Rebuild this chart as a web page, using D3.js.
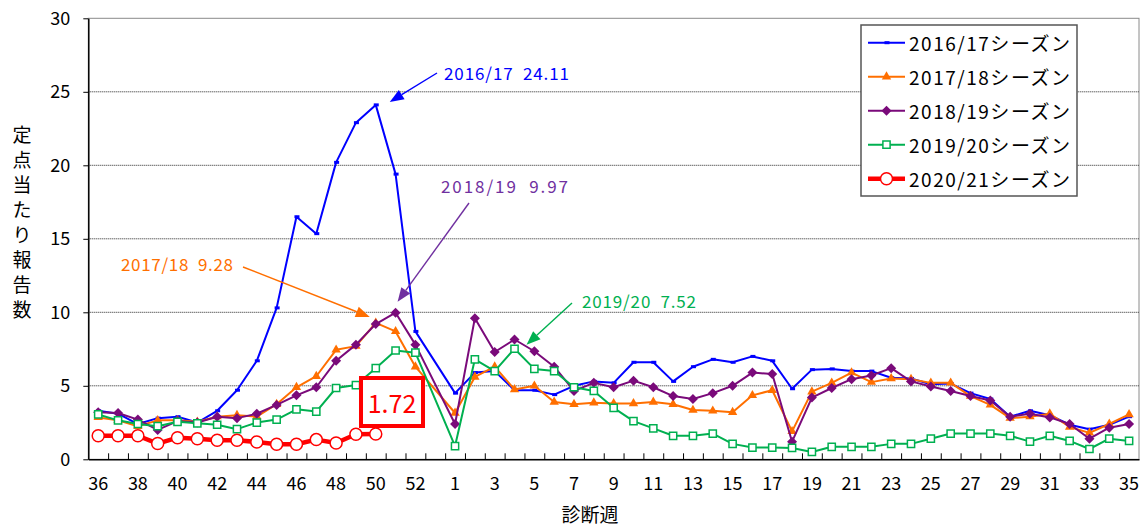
<!DOCTYPE html>
<html><head><meta charset="utf-8">
<script src="https://cdn.jsdelivr.net/npm/d3@7"></script>
<style>
body{margin:0;background:#fff;}
svg{display:block;font-family:"Noto Sans CJK JP","Noto Sans",sans-serif;}
</style></head><body>
<svg id="c" width="1142" height="528"></svg>
<script>
// ---- data ----
const weeks = ["36","37","38","39","40","41","42","43","44","45","46","47","48","49","50","51","52","53",
  "1","2","3","4","5","6","7","8","9","10","11","12","13","14","15","16","17","18","19","20",
  "21","22","23","24","25","26","27","28","29","30","31","32","33","34","35"];
const tickLabels = ["36","38","40","42","44","46","48","50","52","1","3","5","7","9","11","13","15","17","19","21","23","25","27","29","31","33","35"];
const yTicks = [0,5,10,15,20,25,30];
const seasonNames = ["2016/17シーズン","2017/18シーズン","2018/19シーズン","2019/20シーズン","2020/21シーズン"];
const s1617 = [3.3,3.1,2.4,2.8,2.9,2.5,3.3,4.7,6.7,10.3,16.5,15.35,20.2,22.9,24.11,19.4,8.7,null,
  4.5,5.9,6.0,4.7,4.7,4.4,5.0,5.3,5.2,6.6,6.6,5.3,6.3,6.8,6.6,7.0,6.7,4.8,6.1,6.15,
  6.0,6.0,5.55,5.5,5.1,5.15,4.5,4.1,2.9,3.3,3.0,2.35,2.05,2.35,2.9];
const s1718 = [2.85,2.65,2.25,2.65,2.65,2.55,2.9,3.0,2.9,3.75,4.9,5.65,7.45,7.7,9.28,8.7,6.3,null,
  3.15,5.6,6.3,4.75,5.0,3.9,3.75,3.85,3.8,3.8,3.9,3.75,3.35,3.3,3.2,4.35,4.7,1.9,4.6,5.2,
  5.9,5.25,5.5,5.45,5.2,5.2,4.3,3.7,2.8,2.9,3.1,2.2,1.8,2.4,3.05];
const s1819 = [3.2,3.15,2.7,2.0,2.6,2.5,2.9,2.8,3.1,3.7,4.35,4.9,6.7,7.8,9.2,9.97,7.8,null,
  2.4,9.6,7.3,8.15,7.35,6.3,4.65,5.2,4.9,5.35,4.9,4.3,4.1,4.5,5.0,5.9,5.8,1.2,4.2,4.85,
  5.45,5.7,6.2,5.3,4.95,4.65,4.3,4.0,2.9,3.1,2.85,2.4,1.4,2.15,2.4];
const s1920 = [3.05,2.65,2.4,2.25,2.55,2.45,2.35,2.05,2.5,2.7,3.4,3.25,4.85,5.05,6.2,7.4,7.25,null,
  0.9,6.8,6.0,7.52,6.15,6.0,4.9,4.65,3.5,2.6,2.1,1.6,1.6,1.75,1.05,0.8,0.8,0.77,0.5,0.85,
  0.85,0.85,1.05,1.05,1.4,1.75,1.75,1.75,1.6,1.2,1.6,1.25,0.7,1.4,1.25];
const s2021 = [1.6,1.6,1.6,1.07,1.47,1.4,1.3,1.3,1.18,1.02,1.02,1.34,1.11,1.7,1.72];
const annoTexts = ["2016/17  24.11","2017/18  9.28","2018/19  9.97","2019/20  7.52"];
const latestLabel = "1.72";
const yTitle = "定点当たり報告数";
const xTitle = "診断週";

// ---- layout ----
const svg = d3.select("#c");
const L = 88.3, R = 1139, T = 18.3, B = 459.3;
const x = d3.scaleBand().domain(weeks).range([L, R]).padding(0);
const xb = d3.scaleLinear().domain([0, weeks.length]).range([L, R]);
const y = d3.scaleLinear().domain([0, 30]).range([B, T]);
const cx = w => x(w) + x.bandwidth() / 2;

// plot border
svg.append("rect").attr("x", L).attr("y", T).attr("width", R - L).attr("height", B - T)
  .attr("fill", "none").attr("stroke", "#8a8a8a").attr("stroke-width", 1);

// gridlines
svg.append("g").selectAll("line").data(yTicks.filter(v => v > 0 && v < 30)).join("line")
  .attr("x1", L).attr("x2", R).attr("y1", d => y(d)).attr("y2", d => y(d))
  .attr("stroke", "#222").attr("stroke-width", 1).attr("stroke-dasharray", "1,1");

// axes
const yAx = svg.append("g").attr("transform", `translate(${L},0)`)
  .call(d3.axisLeft(y).tickValues(yTicks).tickSizeInner(5).tickSizeOuter(0).tickPadding(13));
yAx.selectAll("text").attr("font-size", 18).attr("fill", "#000").attr("font-family", "Noto Sans CJK JP");
yAx.select(".domain").attr("stroke", "#000").attr("stroke-width", 1.5);
yAx.selectAll(".tick line").attr("stroke", "#000");

const xAx = svg.append("g").attr("transform", `translate(0,${B})`)
  .call(d3.axisBottom(x).tickSize(0).tickPadding(18).tickFormat(d => tickLabels.includes(d) ? d : ""));
xAx.selectAll("text").attr("font-size", 18).attr("fill", "#000").attr("font-family", "Noto Sans CJK JP");
xAx.select(".domain").attr("stroke", "#000").attr("stroke-width", 1.5);

const xTk = svg.append("g").attr("transform", `translate(0,${B})`)
  .call(d3.axisBottom(xb).tickValues(d3.range(1, weeks.length)).tickSize(-6).tickFormat(""));
xTk.select(".domain").remove();
xTk.selectAll(".tick line").attr("stroke", "#000");

// titles
svg.append("g").selectAll("text").data(Array.from(yTitle)).join("text")
  .attr("x", 22).attr("y", (d, i) => 133 + i * 25).attr("text-anchor", "middle")
  .attr("dominant-baseline", "central").attr("font-size", 19).attr("fill", "#000").text(d => d);
svg.append("text").attr("x", 590).attr("y", 513).attr("text-anchor", "middle")
  .attr("dominant-baseline", "central").attr("font-size", 19).attr("fill", "#000").text(xTitle);

// series
const series = [
  {name: seasonNames[0], vals: s1617, color: "#0000ff", lw: 2, mk: "dash"},
  {name: seasonNames[1], vals: s1718, color: "#ff6f00", lw: 2, mk: "tri"},
  {name: seasonNames[2], vals: s1819, color: "#7a0a7a", lw: 2, mk: "dia"},
  {name: seasonNames[3], vals: s1920, color: "#00b050", lw: 2, mk: "sq"},
  {name: seasonNames[4], vals: s2021, color: "#ff0000", lw: 4.5, mk: "circ"}
];
const line = d3.line().x(d => cx(d.w)).y(d => y(d.v));

function drawMarker(g, s, px, py) {
  if (s.mk === "dash") {
    g.append("rect").attr("x", px - 2).attr("y", py - 1.5).attr("width", 5).attr("height", 3).attr("fill", s.color);
  } else if (s.mk === "tri") {
    g.append("path").attr("d", d3.symbol(d3.symbolTriangle, 38)()).attr("transform", `translate(${px},${py})`).attr("fill", s.color);
  } else if (s.mk === "dia") {
    g.append("path").attr("d", d3.symbol(d3.symbolSquare, 50)()).attr("transform", `translate(${px},${py}) rotate(45)`).attr("fill", s.color);
  } else if (s.mk === "sq") {
    g.append("path").attr("d", d3.symbol(d3.symbolSquare, 52)()).attr("transform", `translate(${px},${py})`)
      .attr("fill", "#fff").attr("stroke", s.color).attr("stroke-width", 1.5);
  } else if (s.mk === "circ") {
    g.append("path").attr("d", d3.symbol(d3.symbolCircle, 113)()).attr("transform", `translate(${px},${py})`)
      .attr("fill", "#fff").attr("stroke", s.color).attr("stroke-width", 1.5);
  }
}

series.forEach(s => {
  const pts = s.vals.map((v, i) => ({w: weeks[i], v})).filter(d => d.v != null);
  const g = svg.append("g");
  g.append("path").attr("d", line(pts)).attr("fill", "none").attr("stroke", s.color)
    .attr("stroke-width", s.lw).attr("stroke-linejoin", "round");
  pts.forEach(d => drawMarker(g, s, cx(d.w), y(d.v)));
});

// annotations (arrow tip anchored to the season's peak point)
function peak(vals) { let i = d3.maxIndex(vals); return {px: cx(weeks[i]), py: y(vals[i])}; }
const annos = [
  {text: annoTexts[0], color: "#0000ff", arrow: "#0000ff", tx: 444, ty: 72, tl: 125, sx: 437, sy: 73, s: s1617, dx: 14, dy: -3},
  {text: annoTexts[1], color: "#ff6f00", arrow: "#ff6f00", tx: 121, ty: 263, tl: 112, sx: 243, sy: 267, s: s1718, dx: -6, dy: -6},
  {text: annoTexts[2], color: "#7030a0", arrow: "#7030a0", tx: 441, ty: 185, tl: 127, sx: 469, sy: 203, s: s1819, dx: 2, dy: -11},
  {text: annoTexts[3], color: "#00b050", arrow: "#00b050", tx: 582, ty: 300, tl: 114, sx: 572, sy: 303, s: s1920, dx: 12, dy: -4}
];
annos.forEach(a => {
  const p = peak(a.s);
  const ex = p.px + a.dx, ey = p.py + a.dy;
  const ang = Math.atan2(ey - a.sy, ex - a.sx);
  const hl = 14, hw = 5.5;
  const bx = ex - hl * Math.cos(ang), by = ey - hl * Math.sin(ang);
  svg.append("line").attr("x1", a.sx).attr("y1", a.sy).attr("x2", bx).attr("y2", by)
    .attr("stroke", a.arrow).attr("stroke-width", 1.4);
  svg.append("path").attr("d", `M${ex},${ey}L${bx - hw * Math.sin(ang)},${by + hw * Math.cos(ang)}L${bx + hw * Math.sin(ang)},${by - hw * Math.cos(ang)}Z`)
    .attr("fill", a.arrow);
  svg.append("text").attr("x", a.tx).attr("y", a.ty).attr("dominant-baseline", "central")
    .attr("font-size", 17).attr("fill", a.color).style("white-space", "pre")
    .attr("textLength", a.tl).attr("lengthAdjust", "spacing").text(a.text);
});

// latest value box
svg.append("rect").attr("x", 361).attr("y", 378).attr("width", 62).attr("height", 48)
  .attr("fill", "#fff").attr("stroke", "#ff0000").attr("stroke-width", 4);
svg.append("text").attr("x", 392).attr("y", 402).attr("text-anchor", "middle").attr("dominant-baseline", "central")
  .attr("font-size", 25).attr("fill", "#ff0000").text(latestLabel);

// legend
const lg = svg.append("g");
lg.append("rect").attr("x", 861).attr("y", 25).attr("width", 216).attr("height", 171)
  .attr("fill", "#fff").attr("stroke", "#555").attr("stroke-width", 1.5);
series.forEach((s, i) => {
  const ly = 42.7 + i * 34;
  lg.append("line").attr("x1", 868).attr("x2", 905).attr("y1", ly).attr("y2", ly)
    .attr("stroke", s.color).attr("stroke-width", s.lw);
  drawMarker(lg, s, 886.5, ly);
  lg.append("text").attr("x", 909).attr("y", ly).attr("dominant-baseline", "central")
    .attr("font-size", 19).attr("fill", "#000").attr("textLength", 161).attr("lengthAdjust", "spacing").text(s.name);
});
</script>
</body></html>
